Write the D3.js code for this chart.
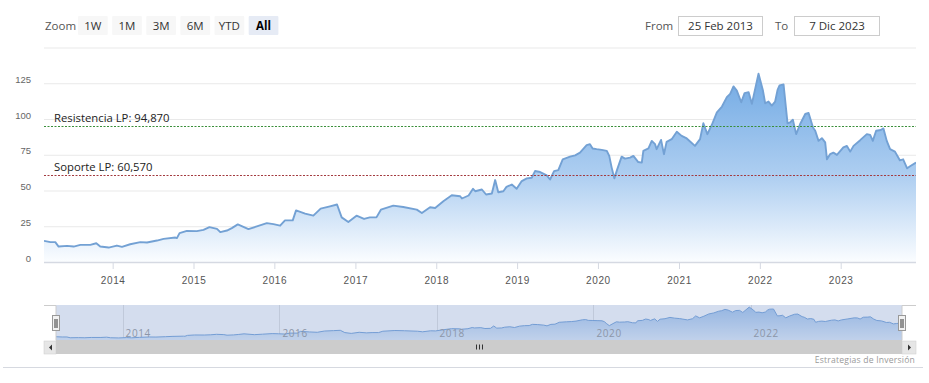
<!DOCTYPE html>
<html>
<head>
<meta charset="utf-8">
<script src="https://cdn.jsdelivr.net/npm/d3@7"></script>
<style>
  html, body { margin: 0; padding: 0; background: #fff; }
  svg { display: block; font-family: "Open Sans", "Liberation Sans", sans-serif; }
</style>
</head>
<body>
<svg id="chart" width="929" height="383"></svg>
<script>
// ---------------- DATA ----------------
const dates = [
"2013-02-25","2013-03-26","2013-04-17","2013-05-02","2013-06-09","2013-07-09","2013-08-08","2013-09-22","2013-10-19","2013-11-06","2013-12-14",
"2014-01-20","2014-02-12","2014-03-21","2014-05-06","2014-06-05","2014-07-20","2014-08-19","2014-10-11","2014-10-18","2014-10-30","2014-12-02",
"2015-01-16","2015-02-15","2015-03-14","2015-04-17","2015-05-02","2015-06-01","2015-06-23","2015-07-20","2015-09-06","2015-10-14","2015-11-28","2015-12-28",
"2016-01-27","2016-02-18","2016-03-24","2016-04-08","2016-05-19","2016-06-25","2016-07-28","2016-09-08","2016-10-10","2016-10-31","2016-11-30",
"2017-01-06","2017-02-09","2017-03-07","2017-04-06","2017-04-26","2017-06-21","2017-08-05","2017-10-05","2017-10-28","2017-12-04","2017-12-27",
"2018-02-02","2018-03-12","2018-04-19","2018-04-27","2018-05-27","2018-06-16","2018-06-26","2018-07-26","2018-08-14","2018-09-09","2018-09-24","2018-10-08","2018-10-31","2018-11-14","2018-12-08","2018-12-30",
"2019-01-22","2019-02-14","2019-03-08","2019-03-23","2019-04-15","2019-05-15","2019-05-30","2019-06-17","2019-07-06","2019-07-26","2019-08-28","2019-09-20","2019-10-12","2019-11-11","2019-11-26","2019-12-08","2019-12-26",
"2020-01-18","2020-02-10","2020-02-21","2020-03-03","2020-03-15","2020-03-28","2020-04-17","2020-05-02","2020-05-25","2020-06-09","2020-07-01","2020-07-17","2020-07-24","2020-08-16","2020-08-31","2020-09-15","2020-09-22","2020-10-12","2020-10-25","2020-11-06","2020-11-29","2020-12-22",
"2021-01-13","2021-02-05","2021-02-20","2021-03-14","2021-04-06","2021-04-21","2021-05-09","2021-05-29","2021-06-21","2021-07-14","2021-08-05","2021-08-20","2021-09-04","2021-09-19","2021-10-09","2021-10-24","2021-11-11","2021-11-26","2021-12-26",
"2022-01-15","2022-01-25","2022-02-09","2022-02-24","2022-03-11","2022-03-22","2022-03-31","2022-04-18","2022-05-06","2022-05-18","2022-05-30","2022-06-14","2022-07-02","2022-07-25","2022-08-09","2022-08-29","2022-09-08","2022-09-23","2022-10-08","2022-10-23","2022-10-31","2022-11-14","2022-11-29","2022-12-15",
"2023-01-13","2023-01-29","2023-02-13","2023-02-28","2023-03-30","2023-04-29","2023-05-14","2023-05-26","2023-06-10","2023-07-01","2023-07-13","2023-07-28","2023-08-12","2023-09-03","2023-09-25","2023-10-10","2023-10-28","2023-11-12","2023-12-07"
];
const prices = [
14.8,13.9,13.9,10.8,11.3,10.8,12.0,12.0,13.1,10.8,10.1,
11.5,10.6,12.4,13.9,13.6,15.0,16.2,17.1,16.7,20.2,21.8,
21.6,22.5,24.4,23.2,20.9,22.0,23.7,26.3,23.0,24.9,27.2,26.5,
25.4,29.1,29.1,36.1,33.8,32.4,37.3,38.9,40.2,31.2,28.0,
32.4,30.1,31.2,31.2,36.6,39.4,38.5,36.6,34.3,38.3,37.8,
42.5,46.7,46.0,44.4,46.5,51.2,49.5,50.7,47.2,47.9,57.3,48.8,49.5,52.5,54.2,51.2,
56.6,58.5,58.9,63.6,62.9,60.6,57.7,63.6,64.3,71.8,73.7,74.6,76.5,81.7,82.4,79.4,78.9,
78.4,77.7,74.2,66.0,58.5,64.8,73.7,72.3,73.0,74.2,69.9,69.5,77.7,79.4,84.7,82.4,78.9,85.4,75.4,84.0,85.9,91.1,
88.2,86.4,84.3,81.2,85.9,97.0,89.4,95.8,104.7,108.7,115.3,117.6,122.8,119.9,111.7,118.1,118.8,110.6,131.7,
119.9,111.0,112.2,109.4,112.2,120.4,123.5,124.2,97.0,97.7,99.5,89.4,96.5,103.5,104.2,94.1,91.8,84.7,86.6,83.6,71.8,75.4,76.5,74.9,
80.1,81.2,77.2,81.2,85.2,89.4,88.9,84.7,91.8,92.3,93.4,84.7,78.9,77.2,71.1,71.8,65.5,67.1,69.5
];
const yTicks = [0, 25, 50, 75, 100, 125, 150];
const yearTicks = [2014, 2015, 2016, 2017, 2018, 2019, 2020, 2021, 2022, 2023];
const navYearTicks = [2014, 2016, 2018, 2020, 2022];
const plotLineValues = [94.87, 60.57];
const plotLineLabels = ["Resistencia LP: 94,870", "Soporte LP: 60,570"];
const rangeButtons = ["1W", "1M", "3M", "6M", "YTD", "All"];
const selectedButton = "All";
const fromLabel = "25 Feb 2013";
const toLabel = "7 Dic 2023";
const creditText = "Estrategias de Inversión";

// ---------------- SETUP ----------------
const parse = d3.timeParse("%Y-%m-%d");
const data = dates.map((d, i) => ({ date: parse(d), value: prices[i] }));
const svg = d3.select("#chart");

const plotL = 44, plotR = 916, plotT = 47.5, plotB = 262;
const x = d3.scaleTime().domain([parse("2013-02-25"), parse("2023-12-07")]).range([plotL, plotR]);
const y = d3.scaleLinear().domain([0, 150]).range([plotB, plotT]);

const defs = svg.append("defs");
const grad = defs.append("linearGradient").attr("id", "areaGrad")
  .attr("gradientUnits", "userSpaceOnUse")
  .attr("x1", 0).attr("x2", 0)
  .attr("y1", y(d3.max(prices))).attr("y2", plotB);
grad.append("stop").attr("offset", 0).attr("stop-color", "#72aae4");
grad.append("stop").attr("offset", 0.55).attr("stop-color", "#afcff1");
grad.append("stop").attr("offset", 1).attr("stop-color", "#fbfdff");

defs.append("clipPath").attr("id", "plotClip").append("rect")
  .attr("x", plotL).attr("y", plotT - 5).attr("width", plotR - plotL).attr("height", plotB - plotT + 5);

// ---------------- RANGE SELECTOR ----------------
svg.append("text").attr("x", 45).attr("y", 30).attr("font-size", 11.5).attr("fill", "#555").text("Zoom");
const bx = d3.scaleBand().domain(rangeButtons).range([78, 78 + 33.4 * rangeButtons.length]).paddingInner(0.13).paddingOuter(0);
const btn = svg.append("g").selectAll("g").data(rangeButtons).join("g");
btn.append("rect")
  .attr("x", d => bx(d)).attr("y", 16).attr("width", bx.bandwidth()).attr("height", 19).attr("rx", 1)
  .attr("fill", d => d === selectedButton ? "#e6ebf5" : "#f7f7f7");
btn.append("text")
  .attr("x", d => bx(d) + bx.bandwidth() / 2).attr("y", 30)
  .attr("text-anchor", "middle").attr("font-size", 11.5)
  .attr("font-weight", d => d === selectedButton ? "bold" : "normal")
  .attr("fill", d => d === selectedButton ? "#000" : "#333")
  .text(d => d);

svg.append("text").attr("x", 645).attr("y", 30).attr("font-size", 11.5).attr("fill", "#555").text("From");
svg.append("rect").attr("x", 678.5).attr("y", 16.5).attr("width", 84).attr("height", 19).attr("fill", "#fff").attr("stroke", "#ccc");
svg.append("text").attr("x", 720.5).attr("y", 30).attr("text-anchor", "middle").attr("font-size", 11.5).attr("fill", "#333").text(fromLabel);
svg.append("text").attr("x", 775).attr("y", 30).attr("font-size", 11.5).attr("fill", "#555").text("To");
svg.append("rect").attr("x", 794.5).attr("y", 16.5).attr("width", 85).attr("height", 19).attr("fill", "#fff").attr("stroke", "#ccc");
svg.append("text").attr("x", 837).attr("y", 30).attr("text-anchor", "middle").attr("font-size", 11.5).attr("fill", "#333").text(toLabel);

// ---------------- Y AXIS / GRID ----------------
const yAxis = d3.axisLeft(y).tickValues(yTicks).tickSize(-(plotR - plotL)).tickPadding(13)
  .tickFormat(d => d === 150 ? "" : d);
const gy = svg.append("g").attr("transform", `translate(${plotL},0)`).call(yAxis);
gy.select(".domain").remove();
gy.selectAll(".tick line").attr("stroke", "#e9e9e9").attr("stroke-width", 1.2);
gy.selectAll(".tick text").attr("fill", "#666").attr("font-size", 9.5).attr("dy", -1)
  .attr("font-family", "'Liberation Sans', sans-serif");

// ---------------- SERIES ----------------
const area = d3.area().x(d => x(d.date)).y0(plotB).y1(d => y(d.value));
const line = d3.line().x(d => x(d.date)).y(d => y(d.value));
const gs = svg.append("g").attr("clip-path", "url(#plotClip)");
gs.append("path").datum(data).attr("d", area).attr("fill", "url(#areaGrad)");
gs.append("path").datum(data).attr("d", line).attr("fill", "none")
  .attr("stroke", "#73a1d4").attr("stroke-width", 1.9).attr("stroke-linejoin", "round");

// ---------------- PLOT LINES ----------------
const plColors = ["#3a8f3a", "#a33a3f"];
const pl = svg.append("g").selectAll("g").data(plotLineValues).join("g");
pl.append("line").attr("x1", plotL).attr("x2", plotR)
  .attr("y1", d => Math.round(y(d)) + 0.5).attr("y2", d => Math.round(y(d)) + 0.5)
  .attr("stroke", (d, i) => plColors[i]).attr("stroke-width", 1).attr("stroke-dasharray", "2,1.5");
pl.append("text").attr("x", 54).attr("y", d => y(d) - 4)
  .attr("font-size", 11.3).attr("fill", "#222")
  .text((d, i) => plotLineLabels[i]);

// ---------------- X AXIS ----------------
const xAxis = d3.axisBottom(x)
  .tickValues(yearTicks.map(yy => new Date(yy, 0, 1)))
  .tickFormat(d3.timeFormat("%Y")).tickSize(7).tickPadding(8);
const gx = svg.append("g").attr("transform", `translate(0,${plotB})`).call(xAxis);
gx.select(".domain").attr("stroke", "#d5d9e2").attr("stroke-width", 1.5).attr("d", `M${plotL},0.5H${plotR}`);
gx.selectAll(".tick line").attr("stroke", "#d5d9e2");
gx.selectAll(".tick text").attr("fill", "#555").attr("font-size", 10).attr("letter-spacing", 0.6);

// ---------------- NAVIGATOR ----------------
const navT = 305, navB = 341, navL = 56, navR = 902;
const xn = d3.scaleTime().domain(x.domain()).range([navL, navR]);
const yn = d3.scaleLinear().domain([0, 140]).range([navB - 0.5, navT]);
const ng = defs.append("linearGradient").attr("id", "navGrad").attr("x1", 0).attr("x2", 0).attr("y1", 0).attr("y2", 1);
ng.append("stop").attr("offset", 0).attr("stop-color", "#a9c9ee");
ng.append("stop").attr("offset", 1).attr("stop-color", "#e6f0fb");

const nav = svg.append("g");
nav.selectAll("line.ngrid").data(navYearTicks).join("line").attr("class", "ngrid")
  .attr("x1", d => Math.round(xn(new Date(d, 0, 1))) + 0.5).attr("x2", d => Math.round(xn(new Date(d, 0, 1))) + 0.5)
  .attr("y1", navT).attr("y2", navB).attr("stroke", "#e3e3e3");
const navArea = d3.area().x(d => xn(d.date)).y0(navB).y1(d => yn(d.value));
const navLine = d3.line().x(d => xn(d.date)).y(d => yn(d.value));
nav.append("path").datum(data).attr("d", navArea).attr("fill", "url(#navGrad)");
nav.append("path").datum(data).attr("d", navLine).attr("fill", "none").attr("stroke", "#7aa7dc").attr("stroke-width", 1);
// mask over selected range
nav.append("rect").attr("x", navL).attr("y", navT).attr("width", navR - navL).attr("height", navB - navT)
  .attr("fill", "rgba(102,133,194,0.28)");
nav.selectAll("text.nlab").data(navYearTicks).join("text").attr("class", "nlab")
  .attr("x", d => xn(new Date(d, 0, 1)) + 3).attr("y", 337)
  .attr("font-size", 10).attr("letter-spacing", 0.6).attr("fill", "#8c96a8")
  .text(d => d);
// outline
nav.append("path")
  .attr("d", `M${plotL},${navT + 0.5}H${navL}V${navB - 0.5}H${navR}V${navT + 0.5}H${plotR}`)
  .attr("fill", "none").attr("stroke", "#cccccc");
// handles
[navL, navR].forEach(hx => {
  const h = nav.append("g").attr("transform", `translate(${Math.round(hx) + 0.5},0)`);
  h.append("rect").attr("x", -4).attr("y", 315.5).attr("width", 7).attr("height", 15)
    .attr("fill", "#f2f2f2").attr("stroke", "#999");
  h.append("line").attr("x1", -1.5).attr("x2", -1.5).attr("y1", 319).attr("y2", 328).attr("stroke", "#333");
  h.append("line").attr("x1", 0.5).attr("x2", 0.5).attr("y1", 319).attr("y2", 328).attr("stroke", "#333");
});

// ---------------- SCROLLBAR ----------------
const sb = svg.append("g");
sb.append("rect").attr("x", plotL).attr("y", 341).attr("width", plotR - plotL).attr("height", 13).attr("fill", "#f2f2f2");
sb.append("rect").attr("x", navL).attr("y", 341).attr("width", navR - navL).attr("height", 13).attr("fill", "#cccccc");
sb.append("rect").attr("x", plotL).attr("y", 341).attr("width", navL - plotL).attr("height", 13).attr("fill", "#e6e6e6").attr("stroke", "#cccccc").attr("stroke-width", 0.5);
sb.append("rect").attr("x", navR).attr("y", 341).attr("width", plotR - navR).attr("height", 13).attr("fill", "#e6e6e6").attr("stroke", "#cccccc").attr("stroke-width", 0.5);
sb.append("path").attr("d", `M${plotL + 8},${344.5}L${plotL + 5},${347.5}L${plotL + 8},${350.5}Z`).attr("fill", "#333");
sb.append("path").attr("d", `M${plotR - 8},${344.5}L${plotR - 5},${347.5}L${plotR - 8},${350.5}Z`).attr("fill", "#333");
const mid = Math.round((navL + navR) / 2);
[-3, 0, 3].forEach(o => sb.append("line").attr("x1", mid + o + 0.5).attr("x2", mid + o + 0.5)
  .attr("y1", 344.5).attr("y2", 349.5).attr("stroke", "#333"));

// ---------------- CREDITS / BORDER ----------------
svg.append("text").attr("x", 915).attr("y", 363).attr("text-anchor", "end")
  .attr("font-size", 8.6).attr("letter-spacing", 0.2).attr("fill", "#999").text(creditText);
svg.append("line").attr("x1", 3).attr("x2", 923).attr("y1", 367.5).attr("y2", 367.5).attr("stroke", "#d6d9e0");
</script>
</body>
</html>
